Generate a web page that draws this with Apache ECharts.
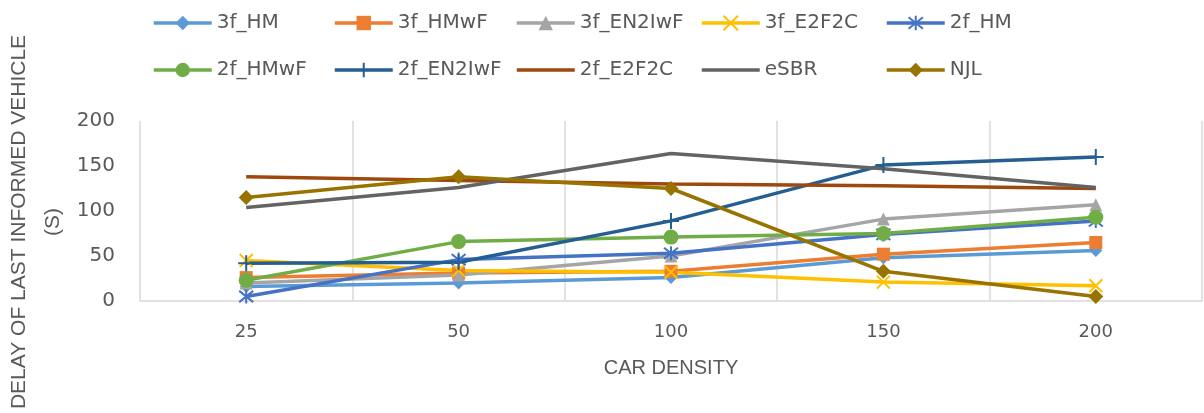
<!DOCTYPE html>
<html>
<head>
<meta charset="utf-8">
<script src="https://cdn.jsdelivr.net/npm/echarts@6/dist/echarts.min.js"></script>
<style>html,body{margin:0;padding:0;background:#fff;}#c{width:1204px;height:413px;}</style>
</head>
<body>
<div id="c"></div>
<script>
const categories = ['25', '50', '100', '150', '200'];
const s3f_HM      = [16, 20, 26, 48, 56];
const s3f_HMwF    = [26, 31, 33, 52, 65];
const s3f_EN2IwF  = [20, 29, 50, 91, 107];
const s3f_E2F2C   = [45, 34, 32, 21, 17];
const s2f_HM      = [5, 46, 53, 74, 89];
const s2f_HMwF    = [23, 66, 71, 75, 93];
const s2f_EN2IwF  = [42, 43, 89, 151, 160];
const s2f_E2F2C   = [138, 134, 130, 128, 125];
const sESBR       = [104, 126, 164, 147, 126];
const sNJL        = [115, 138, 125, 33, 5];
const yTicks = [0, 50, 100, 150, 200];

const CROSS = 'path://M0,0L10,10M10,0L0,10';
const STAR = 'path://M5,0L5,10M1,1L9,9M9,1L1,9';
const PLUS = 'path://M5,0L5,10M0,5L10,5';

const defs = [
  {name: '3f_HM', data: s3f_HM, color: '#5B9BD5', symbol: 'diamond', size: 13},
  {name: '3f_HMwF', data: s3f_HMwF, color: '#ED7D31', symbol: 'rect', size: 13},
  {name: '3f_EN2IwF', data: s3f_EN2IwF, color: '#A5A5A5', symbol: 'triangle', size: 13},
  {name: '3f_E2F2C', data: s3f_E2F2C, color: '#FFC000', symbol: CROSS, size: 13, stroke: true},
  {name: '2f_HM', data: s2f_HM, color: '#4472C4', symbol: STAR, size: 14, stroke: true},
  {name: '2f_HMwF', data: s2f_HMwF, color: '#70AD47', symbol: 'circle', size: 15},
  {name: '2f_EN2IwF', data: s2f_EN2IwF, color: '#255E91', symbol: PLUS, size: 16, stroke: true},
  {name: '2f_E2F2C', data: s2f_E2F2C, color: '#9E480E', symbol: 'none', size: 0},
  {name: 'eSBR', data: sESBR, color: '#636363', symbol: 'none', size: 0},
  {name: 'NJL', data: sNJL, color: '#997300', symbol: 'diamond', size: 15}
];

const colLeft = [152, 333, 515, 700, 885];
const rowTop = [13, 60];

const legends = defs.map((d, i) => ({
  data: [d.symbol === 'none'
    ? {name: d.name, itemStyle: {opacity: 0}}
    : {name: d.name}],
  left: colLeft[i % 5],
  top: rowTop[Math.floor(i / 5)],
  padding: 0,
  itemWidth: 58,
  itemHeight: 18,
  itemGap: 0,
  lineStyle: {width: 3.5},
  textStyle: {fontSize: 20, color: '#595959', fontFamily: 'DejaVu Sans'}
}));

const series = defs.map(d => ({
  name: d.name,
  type: 'line',
  data: d.data,
  symbol: d.symbol,
  symbolSize: d.size,
  showSymbol: d.symbol !== 'none',
  lineStyle: {color: d.color, width: 3.5},
  itemStyle: d.stroke
    ? {color: 'rgba(0,0,0,0)', borderColor: d.color, borderWidth: 2}
    : {color: d.color, borderColor: d.color, borderWidth: 0},
  emphasis: {disabled: true},
  animation: false
}));

const chart = echarts.init(document.getElementById('c'));
chart.setOption({
  animation: false,
  backgroundColor: '#ffffff',
  legend: legends,
  grid: {left: 140, right: 2, top: 121, bottom: 112, containLabel: false, outerBoundsMode: 'none'},
  xAxis: {
    type: 'category',
    data: categories,
    boundaryGap: true,
    axisLine: {show: true, lineStyle: {color: '#D9D9D9', width: 1.5}},
    axisTick: {show: false},
    splitLine: {show: true, lineStyle: {color: '#D9D9D9', width: 1.5}},
    axisLabel: {fontSize: 18, color: '#595959', margin: 22, fontFamily: 'DejaVu Sans'},
    name: 'CAR DENSITY',
    nameLocation: 'middle',
    nameGap: 57,
    nameMoveOverlap: false,
    nameTextStyle: {fontSize: 20, color: '#595959', fontFamily: 'Liberation Sans'}
  },
  yAxis: {
    type: 'value',
    min: yTicks[0],
    max: yTicks[yTicks.length - 1],
    interval: 50,
    axisLine: {show: false},
    axisTick: {show: false},
    splitLine: {show: false},
    axisLabel: {fontSize: 20, color: '#595959', margin: 25, fontFamily: 'DejaVu Sans'},
    name: 'DELAY OF LAST INFORMED VEHICLE\n(S)',
    nameLocation: 'middle',
    nameRotate: 90,
    nameGap: 70,
    nameMoveOverlap: false,
    nameTextStyle: {fontSize: 21, color: '#595959', fontFamily: 'Liberation Sans', lineHeight: 34, align: 'center', padding: [0, 22, 0, 0]}
  },
  series: series
});
</script>
</body>
</html>
